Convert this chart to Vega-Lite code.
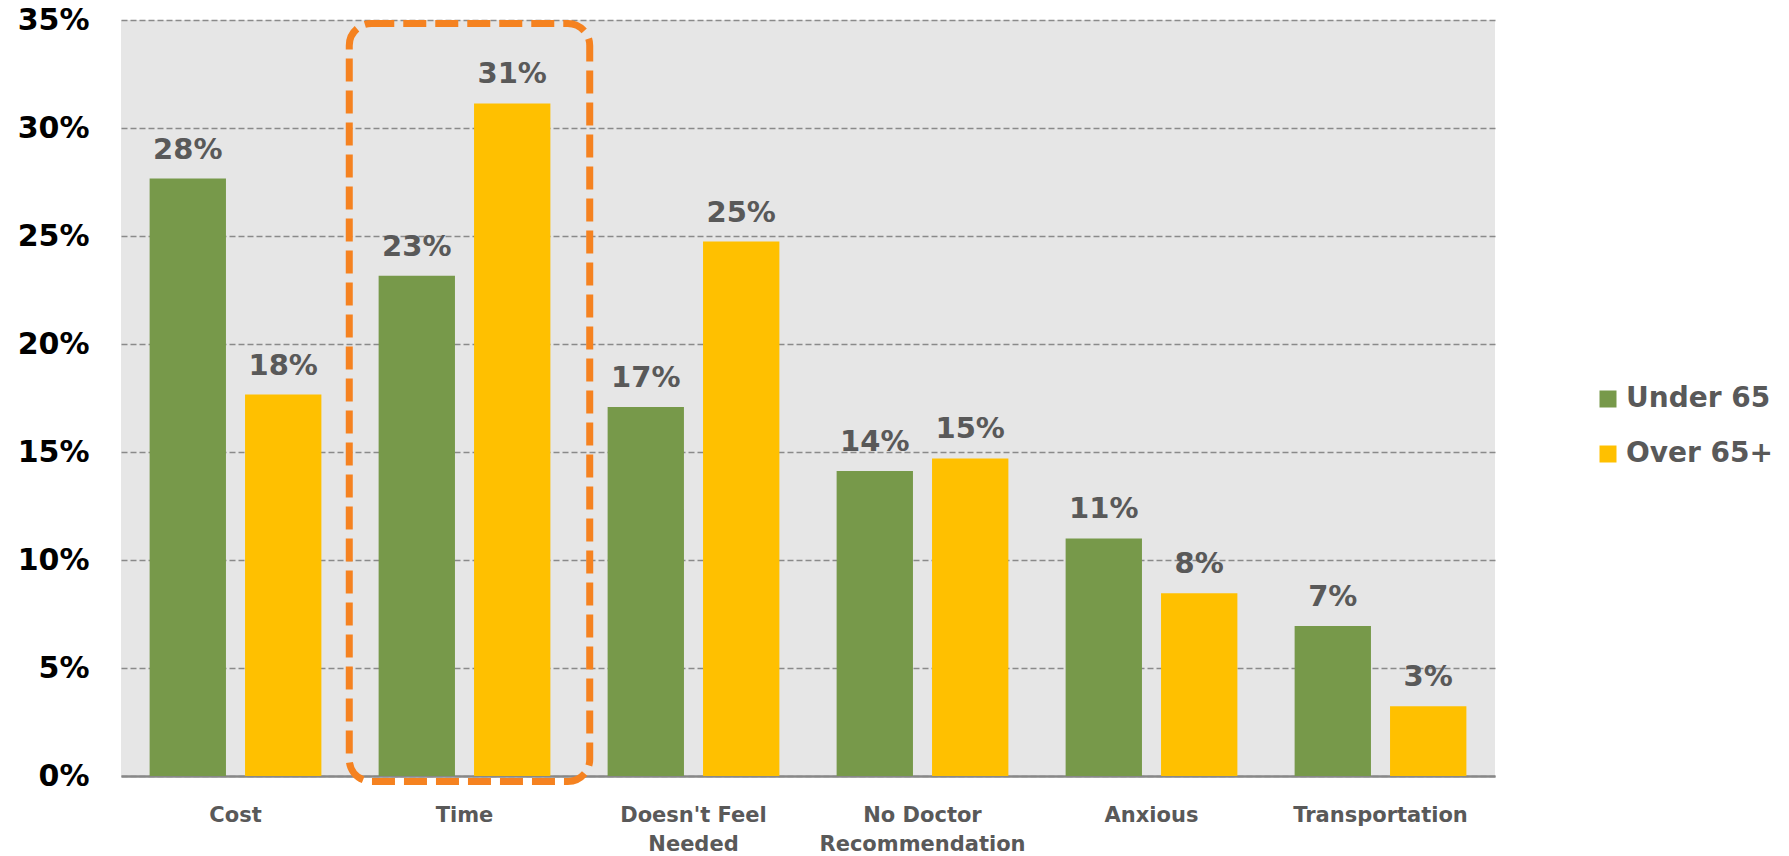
{
  "$schema": "https://vega.github.io/schema/vega-lite/v6.json",
  "autosize": {"type": "none"},
  "width": 1374,
  "height": 756,
  "padding": {"left": 121, "top": 20, "right": 294, "bottom": 80},
  "background": "white",
  "config": {
    "font": "DejaVu Sans",
    "view": {"fill": "#E6E6E6", "stroke": null}
  },
  "data": {
    "values": [
      {"reason": "Cost", "group": "Under 65", "share": 0.2766},
      {"reason": "Cost", "group": "Over 65+", "share": 0.1766},
      {"reason": "Time", "group": "Under 65", "share": 0.2316},
      {"reason": "Time", "group": "Over 65+", "share": 0.3114},
      {"reason": "Doesn't Feel|Needed", "group": "Under 65", "share": 0.1708},
      {"reason": "Doesn't Feel|Needed", "group": "Over 65+", "share": 0.2474},
      {"reason": "No Doctor|Recommendation", "group": "Under 65", "share": 0.1412},
      {"reason": "No Doctor|Recommendation", "group": "Over 65+", "share": 0.147},
      {"reason": "Anxious", "group": "Under 65", "share": 0.11},
      {"reason": "Anxious", "group": "Over 65+", "share": 0.0846},
      {"reason": "Transportation", "group": "Under 65", "share": 0.0695},
      {"reason": "Transportation", "group": "Over 65+", "share": 0.0323}
    ]
  },
  "layer": [
    {
      "mark": {"type": "bar"},
      "encoding": {
        "x": {
          "field": "reason",
          "type": "nominal",
          "sort": null,
          "scale": {"paddingInner": 0, "paddingOuter": 0},
          "axis": {
            "title": null,
            "labelAngle": 0,
            "labelExpr": "split(datum.label, '|')",
            "labelFont": "DejaVu Sans",
            "labelFontSize": 21,
            "labelFontWeight": "bold",
            "labelColor": "#595959",
            "labelLineHeight": 29,
            "labelPadding": 28,
            "labelLimit": 0,
            "ticks": false,
            "domainColor": "#888888",
            "domainWidth": 2.5
          }
        },
        "y": {
          "field": "share",
          "type": "quantitative",
          "scale": {"domain": [0, 0.35], "nice": false},
          "axis": {
            "title": null,
            "values": [0, 0.05, 0.1, 0.15, 0.2, 0.25, 0.3, 0.35],
            "format": ".0%",
            "labelFont": "DejaVu Sans",
            "labelFontSize": 30,
            "labelFontWeight": "bold",
            "labelColor": "#000000",
            "labelPadding": 32,
            "ticks": false,
            "domain": false,
            "gridColor": "#8A8A8A",
            "gridWidth": 1.6,
            "gridDash": [6, 3]
          }
        },
        "xOffset": {
          "field": "group",
          "type": "nominal",
          "scale": {"domain": ["Under 65", "Over 65+"], "paddingInner": 0.2, "paddingOuter": 0.3}
        },
        "color": {
          "field": "group",
          "type": "nominal",
          "scale": {"domain": ["Under 65", "Over 65+"], "range": ["#77994A", "#FFC000"]},
          "legend": {
            "title": null,
            "orient": "none",
            "legendX": 1473,
            "legendY": 365,
            "padding": 0,
            "symbolType": "square",
            "symbolSize": 289,
            "symbolStrokeWidth": 0,
            "labelFont": "DejaVu Sans",
            "labelFontSize": 28,
            "labelFontWeight": "bold",
            "labelColor": "#595959",
            "labelOffset": 4,
            "rowPadding": 27
          }
        }
      }
    },
    {
      "mark": {"type": "text", "baseline": "bottom", "dy": -14, "fontSize": 29, "fontWeight": "bold", "color": "#595959"},
      "encoding": {
        "x": {"field": "reason", "type": "nominal", "sort": null},
        "y": {"field": "share", "type": "quantitative"},
        "xOffset": {
          "field": "group",
          "type": "nominal",
          "scale": {"domain": ["Under 65", "Over 65+"], "paddingInner": 0.2, "paddingOuter": 0.3}
        },
        "text": {"field": "share", "type": "quantitative", "format": ".0%"}
      }
    },
    {
      "transform": [{"filter": "datum.reason === 'Time' && datum.group === 'Under 65'"}],
      "mark": {
        "type": "rect",
        "fill": "#FFFFFF",
        "fillOpacity": 0,
        "stroke": "#F58220",
        "strokeWidth": 7,
        "strokeDash": [23, 9],
        "cornerRadius": 22,
        "width": {"band": 1.05},
        "xOffset": 5
      },
      "encoding": {
        "x": {"field": "reason", "type": "nominal", "sort": null},
        "y": {"datum": 0.3484},
        "y2": {"datum": -0.0025}
      }
    }
  ]
}
